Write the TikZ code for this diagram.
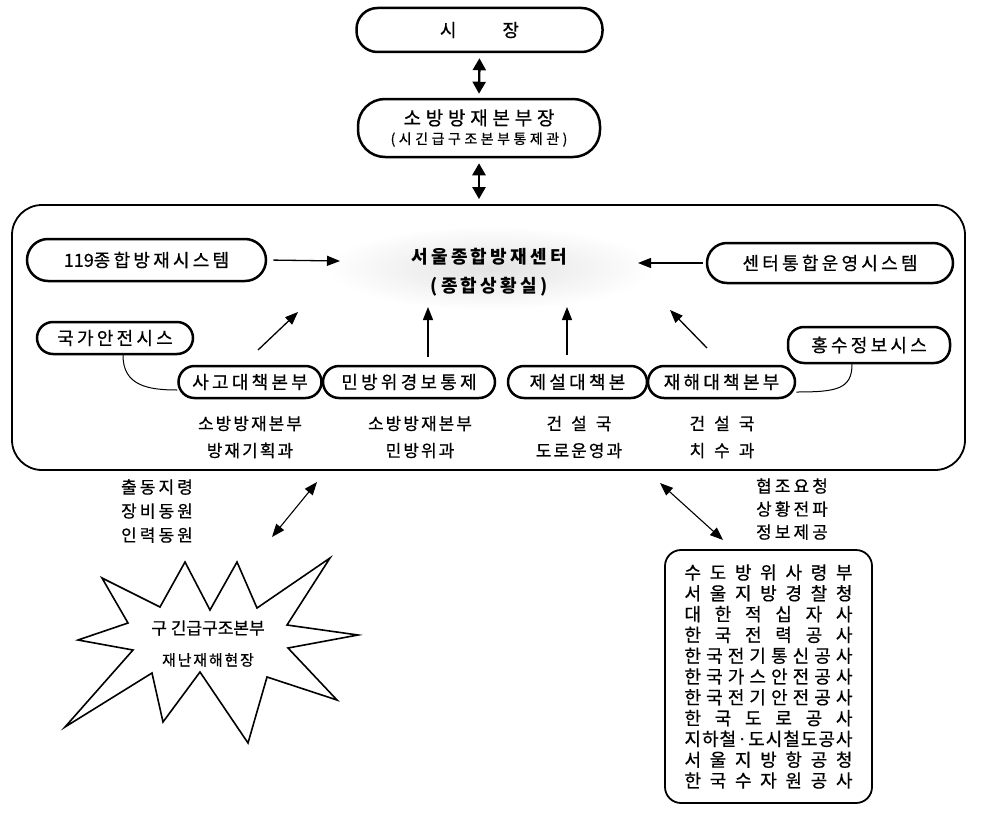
\documentclass[tikz,border=0pt]{standalone}
\usepackage{fontspec}
\setmainfont{Noto Sans CJK KR}[FakeBold=0.6]
\newfontfamily\krs{Noto Sans CJK KR}[LetterSpace=18,FakeBold=0.6]
\newfontfamily\krw{Noto Sans CJK KR}[LetterSpace=25,FakeBold=0.6]
\newfontfamily\krm{Noto Sans CJK KR}[LetterSpace=12,FakeBold=0.6]
\newfontfamily\krc{Noto Sans CJK KR}[LetterSpace=18]
\newfontfamily\krz{Noto Sans CJK KR}[FakeBold=0.6]
\usetikzlibrary{arrows.meta}
\newcommand\spreadline[1]{\makebox[168pt][s]{#1}}
\tikzset{
  pill/.style={draw, line width=2.5pt, rounded corners=16pt, inner sep=0pt, font=\krs\fontsize{18}{20}\selectfont},
  lbl/.style={align=center, inner sep=0pt, font=\krm\fontsize{17}{27}\selectfont},
  bigarrow/.style={line width=2.4pt, {Triangle[length=12pt,width=13pt]}-{Triangle[length=12pt,width=13pt]}},
  inarrow/.style={line width=1.3pt, -{Triangle[length=13pt,width=10pt]}},
  dblarrow/.style={line width=1.1pt, {Triangle[length=13pt,width=10pt]}-{Triangle[length=13pt,width=10pt]}},
  link/.style={line width=1pt}
}
\begin{document}
\begin{tikzpicture}[x=1pt,y=-1pt]
\useasboundingbox (0,0) rectangle (981,816);
\fill[white] (0,0) rectangle (981,816);

% top chain
\node[pill, rounded corners=21pt, minimum width=246pt, minimum height=44pt] (mayor) at (479.5,30) {시\hspace{46pt}장};
\node[pill, rounded corners=27pt, minimum width=242pt, minimum height=58pt, align=center] (chief) at (479,128)
  {\krw\fontsize{19}{24}\selectfont 소방방재본부장\\[-1pt]{\krw\fontsize{14}{16}\selectfont (시긴급구조본부통제관)}};
\node[draw, line width=1.8pt, rounded corners=30pt, minimum width=953pt, minimum height=265pt] (hq) at (488.5,337.5) {};
\draw[bigarrow, shorten <=5pt, shorten >=4pt] (mayor.south) -- (chief.north);
\draw[bigarrow, shorten <=5pt, shorten >=5pt] (chief.south) -- (hq.north -| chief.south);

% center
\shade[inner color=gray!22, outer color=white] (490,268) ellipse [x radius=165, y radius=42];
\node[align=center, inner sep=0pt, font=\krc\bfseries\fontsize{18}{29}\selectfont] (ctr) at (489,272) {서울종합방재센터\\(종합상황실)};

% systems
\node[pill, rounded corners=21pt, minimum width=239pt, minimum height=42pt] (sys119) at (146.5,260) {{\krz 119}종합방재시스템};
\node[pill, rounded corners=20pt, minimum width=246pt, minimum height=40pt] (ops) at (830,263) {센터통합운영시스템};
\node[pill, minimum width=156pt, minimum height=32pt] (nat) at (115,338) {국가안전시스};
\node[pill, minimum width=162pt, minimum height=36pt] (flood) at (869,345) {홍수정보시스};
\node[pill, minimum width=143pt, minimum height=32pt] (acc) at (250,382) {사고대책본부};
\node[pill, minimum width=172pt, minimum height=32pt] (civ) at (409,382) {민방위경보통제};
\node[pill, minimum width=139pt, minimum height=32pt] (snow) at (577.5,382) {제설대책본};
\node[pill, minimum width=147pt, minimum height=32pt] (dis) at (721.5,382) {재해대책본부};

\draw[link] ([xshift=8pt]nat.south) .. controls +(0,30) and +(-30,0) .. ([yshift=-8pt]acc.west);
\draw[link] ([yshift=-10pt]dis.east) .. controls +(40,0) and +(0,25) .. ([xshift=-17pt]flood.south);

% arrows to center
\coordinate (c119) at (340,261);
\coordinate (cops) at (638,263);
\coordinate (cacc) at (298,312);
\coordinate (cciv) at (428,307);
\coordinate (csnow) at (567,307);
\coordinate (cdis) at (670,310);
\coordinate (sacc) at (258,350);
\coordinate (sciv) at (428,357);
\coordinate (ssnow) at (567,355);
\coordinate (sdis) at (707,348);
\draw[inarrow, shorten <=6pt] (sys119.east) -- (c119);
\draw[inarrow, shorten <=3pt] (ops.west) -- (cops);
\draw[inarrow] (sacc) -- (cacc);
\draw[inarrow] (sciv) -- (cciv);
\draw[inarrow] (ssnow) -- (csnow);
\draw[inarrow] (sdis) -- (cdis);

% labels below
\node[lbl] (l1) at (250,437) {소방방재본부\\방재기획과};
\node[lbl] (l2) at (420,437) {소방방재본부\\민방위과};
\node[lbl] (l3) at (579,437) {건\hspace{9pt}설\hspace{9pt}국\\도로운영과};
\node[lbl] (l4) at (722,437) {건\hspace{9pt}설\hspace{9pt}국\\치\hspace{9pt}수\hspace{9pt}과};

% bottom left
\node[lbl, font=\krs\fontsize{17}{24}\selectfont] (orders) at (157,511) {출동지령\\장비동원\\인력동원};
\coordinate (a1) at (317,482);
\coordinate (a2) at (272,537);
\draw[dblarrow] (a1) -- (a2);
\draw[line width=1.6pt, line join=miter, fill=white]
 (185,562) -- (210,610) -- (237,562) -- (257,608) -- (330,558) -- (287,625) -- (358,635) -- (288,648) -- (337,700) -- (267,677) -- (248,743) -- (200,672) -- (163,722) -- (152,673) -- (65,727) -- (133,650) -- (78,640) -- (128,623) -- (102,578) -- (160,607) -- cycle;
\node[inner sep=0pt, font=\fontsize{17}{18}\selectfont] (site1) at (208,628) {구 긴급구조본부};
\node[inner sep=0pt, font=\krm\fontsize{15}{18}\selectfont] (site2) at (208,660) {재난재해현장};

% bottom right
\node[lbl, font=\krs\fontsize{17}{23}\selectfont] (coop) at (792,509) {협조요청\\상황전파\\정보제공};
\coordinate (b1) at (660,483);
\coordinate (b2) at (723,540);
\draw[dblarrow] (b1) -- (b2);
\node[draw, line width=1.8pt, rounded corners=16pt, minimum width=207pt, minimum height=253pt, align=center, inner sep=0pt, font=\fontsize{18}{20.8}\selectfont] (orgs) at (768.5,676.5)
 {\spreadline{수 도 방 위 사 령 부}\\
  \spreadline{서 울 지 방 경 찰 청}\\
  \spreadline{대 한 적 십 자 사}\\
  \spreadline{한 국 전 력 공 사}\\
  \spreadline{한 국 전 기 통 신 공 사}\\
  \spreadline{한 국 가 스 안 전 공 사}\\
  \spreadline{한 국 전 기 안 전 공 사}\\
  \spreadline{한 국 도 로 공 사}\\
  \makebox[168pt][s]{지\hfill 하\hfill 철\hfill ·\hfill 도\hfill 시\hfill 철\hfill 도\hfill 공\hfill 사}\\
  \spreadline{서 울 지 방 항 공 청}\\
  \spreadline{한 국 수 자 원 공 사}};
\end{tikzpicture}
\end{document}
